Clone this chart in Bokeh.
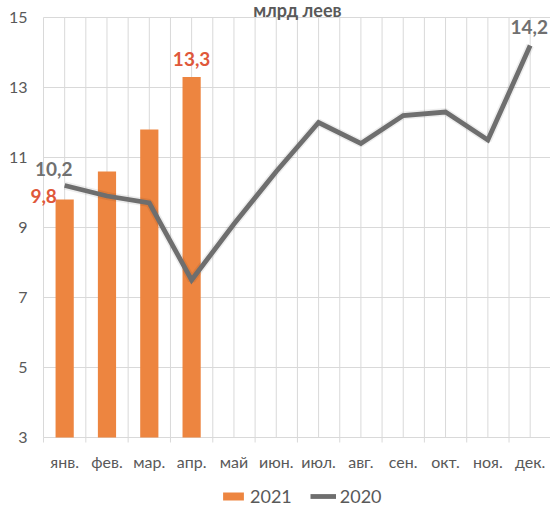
from bokeh.plotting import figure
from bokeh.models import ColumnDataSource, LabelSet, Label, Legend, LegendItem
from bokeh.core.properties import value
from bokeh.embed import file_html
from bokeh.resources import INLINE

months = ["янв.", "фев.", "мар.", "апр.", "май", "июн.", "июл.", "авг.", "сен.", "окт.", "ноя.", "дек."]
values_2021 = [9.8, 10.6, 11.8, 13.3]
values_2020 = [10.2, 9.9, 9.7, 7.5, 9.1, 10.6, 12.0, 11.4, 12.2, 12.3, 11.5, 14.2]
y_ticks = [3, 5, 7, 9, 11, 13, 15]
title_text = "млрд леев"

FONT = "Lato"
BAR = "#ED8540"
LINE = "#6E6E6E"
RED = "#E0583A"
LBLGRAY = "#707070"
GRID = "#D9D9D9"
TXT = "#595959"

n = len(months)
x_all = [i + 0.5 for i in range(n)]
x_21 = x_all[:len(values_2021)]
y0, y1 = y_ticks[0], y_ticks[-1]

# The plotting frame covers the whole canvas; the chart area (0..12, 3..15)
# sits inside it, leaving room for tick labels, title and legend.
W, H = 550, 511
left_px, top_px, bottom_px = 43, 17, 74
px_x = (W - left_px) / 11.98
px_y = (H - top_px - bottom_px) / (y1 - y0)
x_range = (-left_px / px_x, (W - left_px) / px_x)
y_range = (y0 - bottom_px / px_y, y1 + top_px / px_y)

p = figure(width=W, height=H, output_backend="svg", toolbar_location=None,
           x_range=x_range, y_range=y_range,
           min_border=0, min_border_left=0, min_border_right=0,
           min_border_top=0, min_border_bottom=0)
p.axis.visible = False
p.grid.visible = False
p.outline_line_color = None
p.background_fill_color = "white"

# gridlines: category boundaries and centres (vertical), value ticks (horizontal)
vx = [k * 0.5 for k in range(2 * n + 1)]
p.segment(x0=vx, y0=[y0] * len(vx), x1=vx, y1=[y1] * len(vx), line_color=GRID, line_width=1)
p.segment(x0=[0] * len(y_ticks), y0=y_ticks, x1=[n] * len(y_ticks), y1=y_ticks,
          line_color=GRID, line_width=1)
# category tick marks below the axis
bx = list(range(n + 1))
p.segment(x0=bx, y0=[y0] * len(bx), x1=bx, y1=[y0 - 5 / px_y] * len(bx),
          line_color=GRID, line_width=1)

# tick labels
ysrc = ColumnDataSource(dict(x=[0] * len(y_ticks), y=y_ticks, t=[str(v) for v in y_ticks]))
p.add_layout(LabelSet(x="x", y="y", text="t", source=ysrc, x_offset=-16,
                      text_align="right", text_baseline="middle", text_color=TXT,
                      text_font=value(FONT), text_font_size="16px"))
xsrc = ColumnDataSource(dict(x=x_all, y=[y0] * n, t=months))
p.add_layout(LabelSet(x="x", y="y", text="t", source=xsrc, y_offset=-24,
                      text_align="center", text_baseline="middle", text_color=TXT,
                      text_font=value(FONT), text_font_size="16px"))

src21 = ColumnDataSource(dict(x=x_21, y=values_2021))
src20 = ColumnDataSource(dict(x=x_all, y=values_2020))

bars = p.vbar(x="x", top="y", bottom=y0, width=0.43, source=src21,
              fill_color=BAR, line_color=None)
p.line(x="x", y="y", source=src20, line_color="black", line_alpha=0.07, line_width=8)
line = p.line(x="x", y="y", source=src20, line_color=LINE, line_width=4.8, line_join="miter")

def fmt(v):
    return ("%.1f" % v).replace(".", ",")

# data labels: first and last of each series
lab21 = ColumnDataSource(dict(x=[x_21[0], x_21[-1]], y=[values_2021[0], values_2021[-1]],
                              t=[fmt(values_2021[0]), fmt(values_2021[-1])],
                              dx=[-21, 0], dy=[4, 18]))
lab20 = ColumnDataSource(dict(x=[x_all[0], x_all[-1]], y=[values_2020[0], values_2020[-1]],
                              t=[fmt(values_2020[0]), fmt(values_2020[-1])],
                              dx=[-11, -1], dy=[17, 19]))
for src, col in ((lab21, RED), (lab20, LBLGRAY)):
    p.add_layout(LabelSet(x="x", y="y", text="t", source=src, x_offset="dx", y_offset="dy",
                          text_align="center", text_baseline="middle", text_color=col,
                          text_font=value(FONT), text_font_size="19px",
                          text_font_style="bold"))

# title (cropped at the top in the reference)
p.add_layout(Label(x=n / 2, y=y1, y_offset=8, text=title_text,
                   text_align="center", text_baseline="alphabetic", text_font=FONT,
                   text_font_size="18px", text_font_style="bold", text_color=TXT))

legend = Legend(items=[LegendItem(label="2021", renderers=[bars]),
                       LegendItem(label="2020", renderers=[line])],
                orientation="horizontal", location=(220, 4),
                glyph_width=26, glyph_height=10, label_standoff=4, spacing=18,
                padding=0, margin=0, border_line_color=None, background_fill_alpha=0,
                label_text_font=FONT, label_text_font_size="18px", label_text_color=TXT)
p.add_layout(legend, "center")

open("out.html", "w").write(file_html(p, INLINE))
